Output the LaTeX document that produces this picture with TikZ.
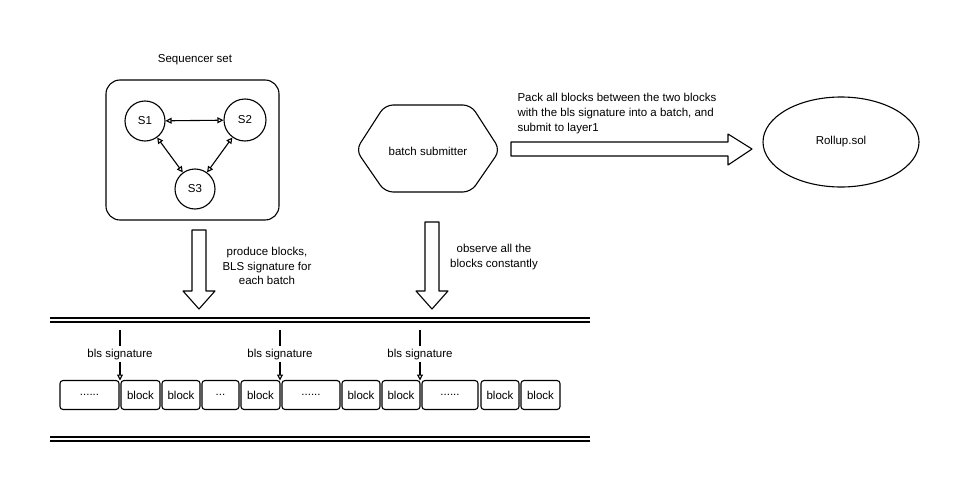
\documentclass[tikz,border=0pt]{standalone}
\usepackage{fontspec}
\setmainfont{Liberation Sans}
\usetikzlibrary{arrows.meta,shapes.geometric}
\begin{document}
\begin{tikzpicture}[x=1pt,y=-1pt,
  font=\fontsize{11.5}{14.8}\selectfont,
  line width=1.1pt,
  blk/.style={draw, rounded corners=3pt, minimum height=29pt, inner sep=0pt},
  snode/.style={draw, circle, inner sep=0pt},
  dbl/.style={{Triangle[open,length=6pt,width=6pt]}-{Triangle[open,length=6pt,width=6pt]}},
  sigarrow/.style={-{Triangle[open,length=6pt,width=6pt]}},
  lbl/.style={align=center, inner sep=1pt},
  fat/.style={draw, line width=1.1pt, line join=round}]
\useasboundingbox (0,0) rectangle (971,495);

% Sequencer set
\node[inner sep=0pt] (seqlbl) at (195,60) {Sequencer set};
\node[draw, rounded corners=14pt, minimum width=173pt, minimum height=140pt] (seq) at (192.5,150) {};
\node[snode, minimum size=40pt] (s1) at (145,121) {S1};
\node[snode, minimum size=42pt] (s2) at (245,120) {S2};
\node[snode, minimum size=40pt] (s3) at (195,189) {S3};
\draw[dbl] (s1) -- (s2);
\draw[dbl] (s1) -- (s3);
\draw[dbl] (s2) -- (s3);

% down arrows
\draw[fat] (192,230) -- (206,230) -- (206,291) -- (215,291) -- (199,309) -- (183,291) -- (192,291) -- cycle;
\node[lbl] (prod) at (267,266) {produce blocks,\\BLS signature for\\each batch};
\draw[fat] (425,222) -- (439,222) -- (439,291) -- (448,291) -- (432,309) -- (416,291) -- (425,291) -- cycle;
\node[lbl] (obs) at (494,257) {observe all the\\blocks constantly};

% batch submitter
\node (bs) at (428,151) {batch submitter};
\draw[rounded corners=8pt] (356,150) -- (385,105) -- (471,105) -- (500,150) -- (471,192) -- (385,192) -- cycle;

% big arrow
\draw[fat] (511,142) -- (728,142) -- (728,134) -- (752,149) -- (728,165) -- (728,156) -- (511,156) -- cycle;
\node[align=left, anchor=north west, inner sep=0pt] (pack) at (517,93)
  {Pack all blocks between the two blocks\\with the bls signature into a batch, and\\submit to layer1};

% Rollup
\node[draw, ellipse, minimum width=156pt, minimum height=90pt] (roll) at (841,142) {Rollup.sol};

% chain lines
\draw (50,318) -- (590,318);
\draw (50,322) -- (590,322);
\draw (50,437) -- (590,437);
\draw (50,441) -- (590,441);

% blocks
\node[blk, minimum width=59pt] (b1) at (89.5,395) {......};
\node[blk, minimum width=39pt] (b2) at (140.5,395) {block};
\node[blk, minimum width=38pt] (b3) at (181,395) {block};
\node[blk, minimum width=37pt] (b4) at (220.5,395) {...};
\node[blk, minimum width=39pt] (b5) at (260.5,395) {block};
\node[blk, minimum width=58pt] (b6) at (311,395) {......};
\node[blk, minimum width=38pt] (b7) at (361,395) {block};
\node[blk, minimum width=38pt] (b8) at (401,395) {block};
\node[blk, minimum width=56pt] (b9) at (450,395) {......};
\node[blk, minimum width=38pt] (b10) at (500,395) {block};
\node[blk, minimum width=39pt] (b11) at (540.5,395) {block};

% signatures
\foreach \i/\x in {1/120,2/280,3/420}{
  \coordinate (top\i) at (\x,330);
  \node[inner sep=1pt] (sig\i) at (\x,355) {bls signature};
  \coordinate (tgt\i) at (\x,380.5);
  \draw (top\i) -- (\x,346);
  \draw[sigarrow] (sig\i.south) -- (tgt\i);
}
\end{tikzpicture}
\end{document}
